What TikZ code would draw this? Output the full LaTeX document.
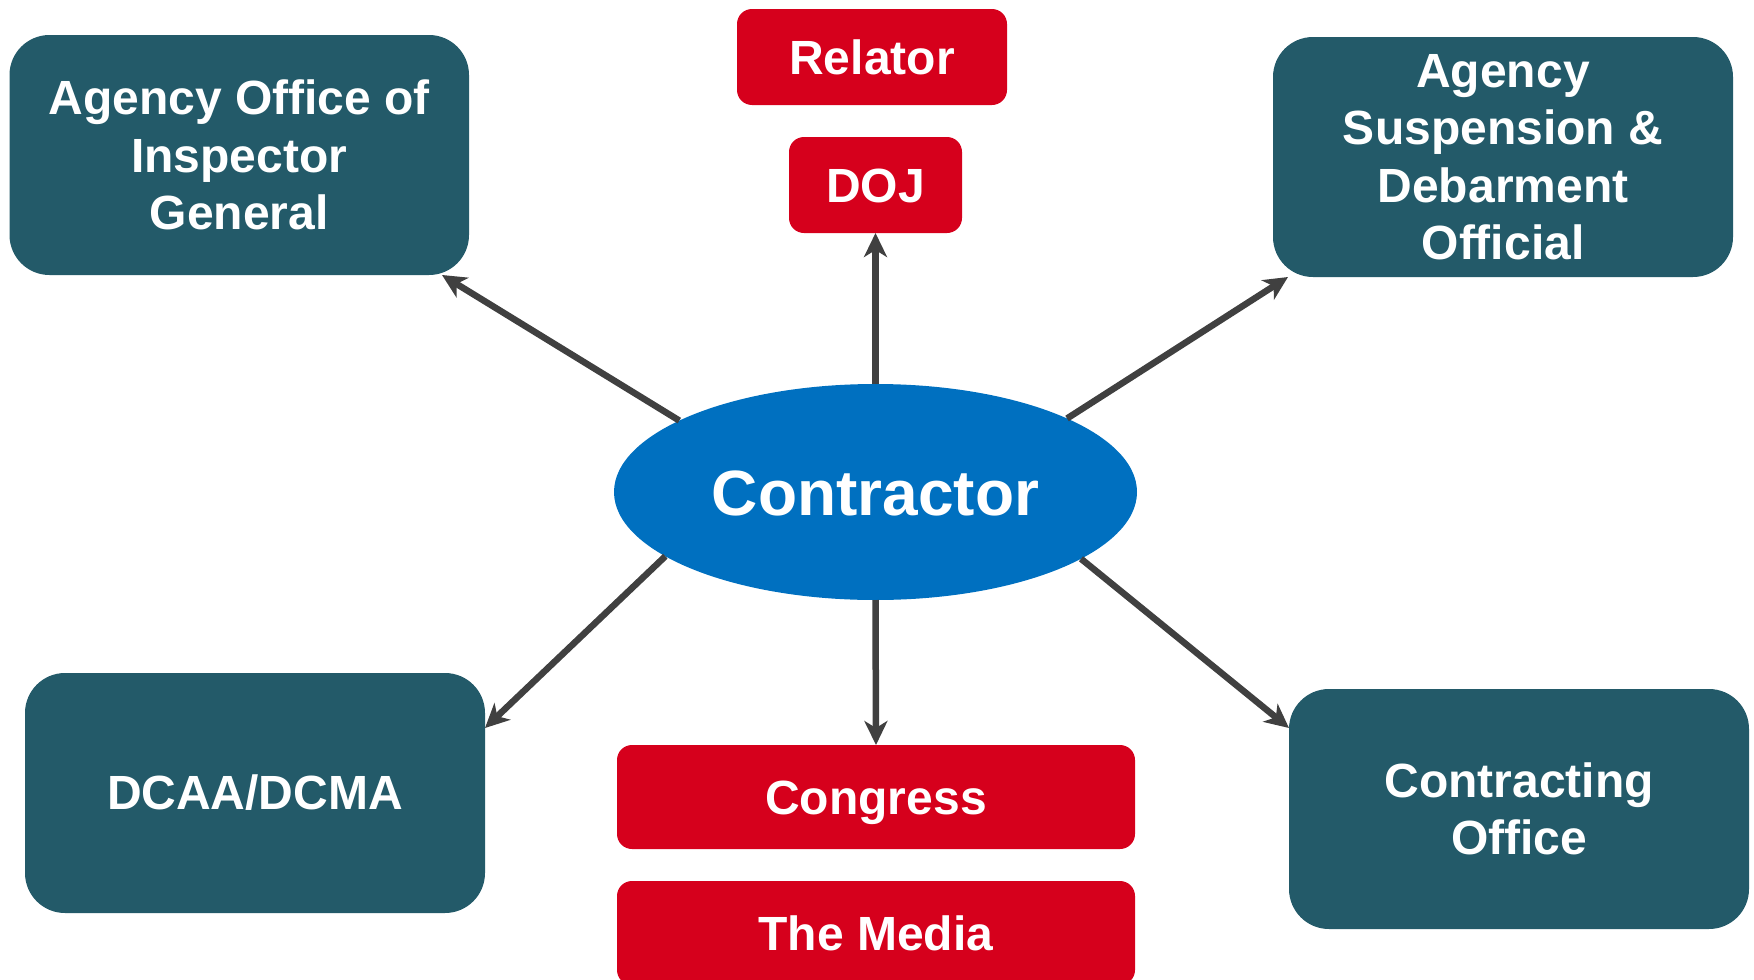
\documentclass[tikz,border=0pt]{standalone}
\usepackage{fontspec}
\setmainfont{Liberation Sans}
\usetikzlibrary{arrows.meta,shapes.geometric,calc}
\definecolor{tealbox}{HTML}{235A69}
\definecolor{redbox}{HTML}{D6001C}
\definecolor{bluebox}{HTML}{0070C0}
\definecolor{arrowgray}{HTML}{404040}
\begin{document}
\begin{tikzpicture}[x=1pt,y=-1pt,
  tealstyle/.style={rectangle,fill=tealbox,rounded corners=40pt,minimum width=460pt,minimum height=240pt,inner sep=0pt,outer sep=0pt,text=white,align=center,font={\fontsize{48pt}{57.5pt}\selectfont\bfseries}},
  redstyle/.style={rectangle,fill=redbox,rounded corners=15pt,minimum height=96pt,inner sep=0pt,outer sep=0pt,text=white,text height=35pt,text depth=0pt,font={\fontsize{48pt}{57.5pt}\selectfont\bfseries}},
  conn/.style={draw=arrowgray,line width=6.5pt,-{Stealth[length=24pt,width=23pt,inset=7pt]}}
]
\useasboundingbox (0,0) rectangle (1754,980);
\node[tealstyle,minimum width=459.5pt] (aoig) at (239.25,155) {Agency Office of\\Inspector\\General};
\node[tealstyle] (asdo) at (1503,157) {Agency\\Suspension \&\\Debarment\\Official};
\node[tealstyle] (dcaa) at (255,793) {DCAA/DCMA};
\node[tealstyle] (co) at (1519,809) {Contracting\\Office};
\node[redstyle,minimum width=270pt] (relator) at (872,57) {Relator};
\node[redstyle,minimum width=173pt] (doj) at (875.5,185) {DOJ};
\node[redstyle,minimum width=518pt,minimum height=104pt] (congress) at (876,797) {Congress};
\node[redstyle,minimum width=518pt,minimum height=104pt] (media) at (876,933) {The Media};
\node[ellipse,fill=bluebox,minimum width=523pt,minimum height=216pt,inner sep=0pt,outer sep=0pt,text=white,text height=47pt,text depth=0pt,font={\fontsize{64pt}{70pt}\selectfont\bfseries}] (c) at (875.5,492) {Contractor};
\draw[conn] (c.north) -- (doj.south);
\draw[conn] (c.south) -- (congress.north);
\draw[conn] (c.160.6) -- ($(aoig.south east)+(-27,0)$);
\draw[conn] (c.21.1) -- ($(asdo.south west)+(15,0)$);
\draw[conn] (c.197.9) -- ($(dcaa.north east)+(0,55)$);
\draw[conn] (c.-18.8) -- ($(co.north west)+(0,39)$);
\end{tikzpicture}
\end{document}
